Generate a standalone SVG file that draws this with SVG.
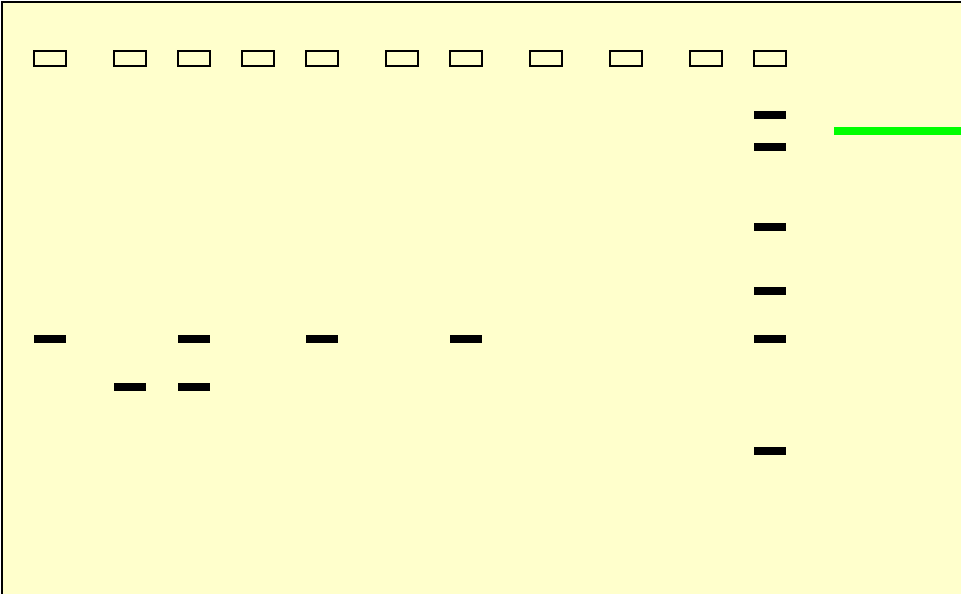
<svg xmlns="http://www.w3.org/2000/svg" width="961" height="594" viewBox="0 0 961 594">
<style>
.well{fill:none;stroke:#000;stroke-width:2}
.band{fill:#000}
</style>
<rect x="0" y="0" width="961" height="594" fill="#fff"/>
<rect id="gel" x="2" y="2" width="970" height="600" fill="#FFFFCC" stroke="#000" stroke-width="2"/>
<g id="wells">
<rect class="well" x="34" y="51" width="32" height="15"/>
<rect class="well" x="114" y="51" width="32" height="15"/>
<rect class="well" x="178" y="51" width="32" height="15"/>
<rect class="well" x="242" y="51" width="32" height="15"/>
<rect class="well" x="306" y="51" width="32" height="15"/>
<rect class="well" x="386" y="51" width="32" height="15"/>
<rect class="well" x="450" y="51" width="32" height="15"/>
<rect class="well" x="530" y="51" width="32" height="15"/>
<rect class="well" x="610" y="51" width="32" height="15"/>
<rect class="well" x="690" y="51" width="32" height="15"/>
<rect class="well" x="754" y="51" width="32" height="15"/>
</g>
<g id="bands">
<rect class="band" x="34" y="335" width="32" height="8"/>
<rect class="band" x="178" y="335" width="32" height="8"/>
<rect class="band" x="306" y="335" width="32" height="8"/>
<rect class="band" x="450" y="335" width="32" height="8"/>
<rect class="band" x="114" y="383" width="32" height="8"/>
<rect class="band" x="178" y="383" width="32" height="8"/>
</g>
<g id="ladder">
<rect class="band" x="754" y="111" width="32" height="8"/>
<rect class="band" x="754" y="143" width="32" height="8"/>
<rect class="band" x="754" y="223" width="32" height="8"/>
<rect class="band" x="754" y="287" width="32" height="8"/>
<rect class="band" x="754" y="335" width="32" height="8"/>
<rect class="band" x="754" y="447" width="32" height="8"/>
</g>
<g id="marker">
<rect x="834" y="127" width="130" height="8" fill="#00FF00"/>
</g>
</svg>
